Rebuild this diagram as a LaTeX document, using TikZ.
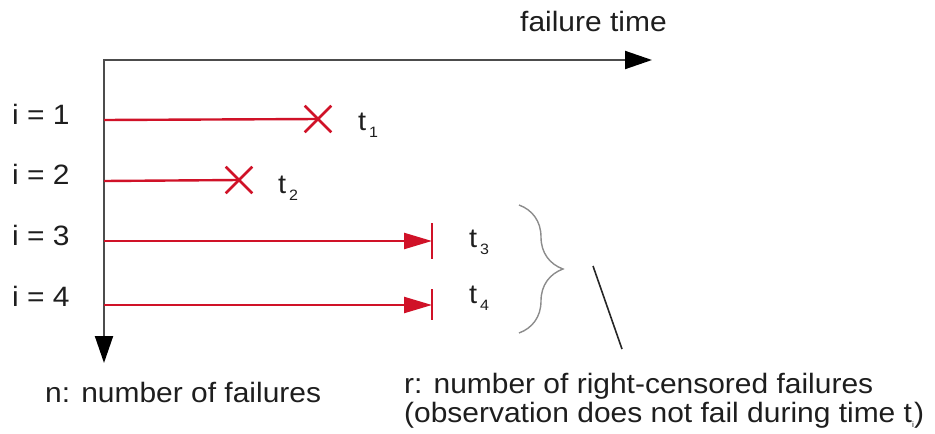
\documentclass[tikz,border=0pt]{standalone}
\usepackage{fontspec}
\setmainfont{Liberation Sans}[FakeStretch=1.07]
\usetikzlibrary{arrows.meta,shapes.misc,decorations.pathreplacing}
\definecolor{failred}{RGB}{208,18,40}
\definecolor{txtgray}{RGB}{30,30,30}
\newcommand{\tsub}[1]{t\hspace{3pt}\raisebox{-7pt}{\fontsize{15}{15}\selectfont #1}}
\begin{document}
\begin{tikzpicture}[
        x=1pt,
        y=-1pt,
        % 样式
        axis/.style={line width=2pt,draw=black!70,
            {Triangle[length=27pt,width=18pt,color=black]}-{Triangle[length=27pt,width=18pt,color=black]}},
        failline/.style={line width=2.4pt,draw=failred},
        censline/.style={line width=2.4pt,draw=failred,-{Triangle[length=28pt,width=16pt]}},
        bar/.style={line width=2.4pt,draw=failred},
        xmark/.style={cross out,draw=failred,line width=2.6pt,minimum size=24pt,inner sep=0pt},
        lbl/.style={font=\fontsize{28}{34}\selectfont,text=txtgray,inner sep=0pt,anchor=base west},
        tlbl/.style={font=\fontsize{27}{32}\selectfont,text=txtgray,inner sep=0pt,anchor=base west},
        brace/.style={draw=black!45,line width=1.4pt,decorate,decoration={brace,amplitude=44pt,aspect=0.5}},
        slash/.style={draw=black!85,line width=1.6pt},
    ]
    \useasboundingbox (0,0) rectangle (935,434);

    % 坐标轴
    \coordinate (O) at (104,60);
    \coordinate (xend) at (652,60);
    \coordinate (yend) at (104,363);
    \draw[axis] (xend) -- (O) -- (yend);
    \node[lbl] (ft) at (520,31) {failure time};
    \node[lbl] (nf) at (45,402) {n: number of failures};

    % 各个样本的起点
    \coordinate (s1) at (104,120);
    \coordinate (s2) at (104,181);
    \coordinate (s3) at (104,241);
    \coordinate (s4) at (104,305);
    \node[lbl] (i1) at (12,124) {i = 1};
    \node[lbl] (i2) at (12,184) {i = 2};
    \node[lbl] (i3) at (12,245) {i = 3};
    \node[lbl] (i4) at (12,306) {i = 4};

    % 失效（叉号）
    \node[xmark] (x1) at (318,119) {};
    \node[xmark] (x2) at (239,180) {};
    \draw[failline] (s1) -- (x1.center);
    \draw[failline] (s2) -- (x2.center);
    \node[tlbl] (t1) at (358,130) {\tsub{1}};
    \node[tlbl] (t2) at (278,193) {\tsub{2}};

    % 右删失（箭头加竖线）
    \coordinate (b3) at (432,241);
    \coordinate (b4) at (432,305);
    \coordinate (b3u) at (432,223);
    \coordinate (b3d) at (432,259);
    \coordinate (b4u) at (432,289);
    \coordinate (b4d) at (432,320);
    \draw[censline] (s3) -- (b3);
    \draw[censline] (s4) -- (b4);
    \draw[bar] (b3u) -- (b3d);
    \draw[bar] (b4u) -- (b4d);
    \node[tlbl] (t3) at (469,247) {\tsub{3}};
    \node[tlbl] (t4) at (469,303) {\tsub{4}};

    % 大括号与斜线
    \coordinate (br1) at (519,205);
    \coordinate (br2) at (519,333);
    \draw[brace] (br1) -- (br2);
    \coordinate (sl1) at (593,266);
    \coordinate (sl2) at (622,349);
    \draw[slash] (sl1) -- (sl2);

    % 说明文字
    \node[lbl] (r1) at (404,393) {r: number of right-censored failures};
    \node[lbl] (r2) at (404,422) {(observation does not fail during time t\raisebox{-5pt}{\fontsize{8}{8}\selectfont i})};
\end{tikzpicture}
\end{document}
